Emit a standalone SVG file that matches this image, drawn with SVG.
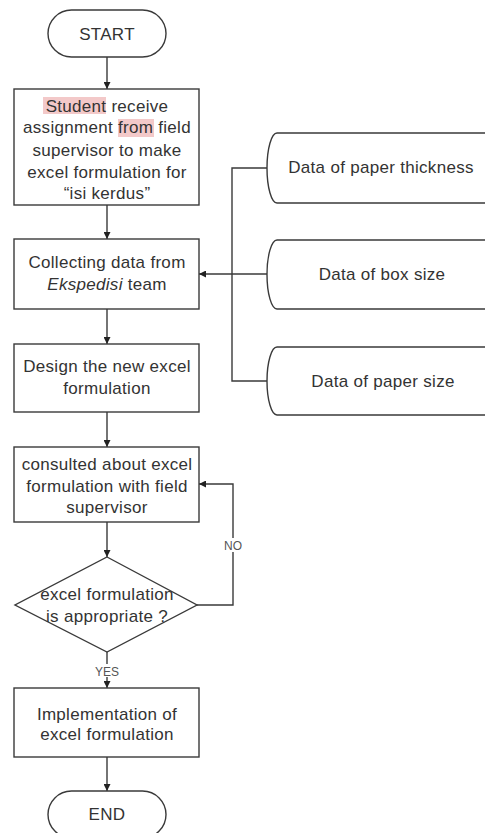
<svg xmlns="http://www.w3.org/2000/svg" width="485" height="833" viewBox="0 0 485 833">
<style>
.s{fill:#fff;stroke:#3a3a3a;stroke-width:1.4}
.t{font-family:"Liberation Sans",Arial,sans-serif;font-size:17px;fill:#333;text-anchor:middle;letter-spacing:0.3px}
.l{font-family:"Liberation Sans",Arial,sans-serif;font-size:12px;fill:#555;text-anchor:middle}
.c{fill:none;stroke:#3a3a3a;stroke-width:1.4}
.hl{fill:#f3c9c9}
</style>
<defs>
<marker id="ah" viewBox="0 0 10 10" refX="10" refY="5" markerWidth="7" markerHeight="7" markerUnits="userSpaceOnUse" orient="auto">
<path d="M0,0 L10,5 L0,10 z" fill="#222"/>
</marker>
</defs>
<rect width="485" height="833" fill="#fff"/>
<g id="connectors">
<path class="c" d="M107,57 V89" marker-end="url(#ah)"/>
<path class="c" d="M107,205 V239" marker-end="url(#ah)"/>
<path class="c" d="M107,309 V344" marker-end="url(#ah)"/>
<path class="c" d="M107,412 V447" marker-end="url(#ah)"/>
<path class="c" d="M107,522 V557" marker-end="url(#ah)"/>
<path class="c" d="M107,652 V688" marker-end="url(#ah)"/>
<path class="c" d="M107,757 V791" marker-end="url(#ah)"/>
<path class="c" d="M197,605 H233 V484 H199" marker-end="url(#ah)"/>
<path class="c" d="M267,168 H232 V381 H267"/>
<path class="c" d="M267,274 H199" marker-end="url(#ah)"/>
<rect x="222" y="538" width="22" height="14" fill="#fff"/>
<text class="l" x="233" y="550">NO</text>
<rect x="94" y="664" width="26" height="13" fill="#fff"/>
<text class="l" x="107" y="676">YES</text>
</g>
<g id="start">
<rect class="s" x="48" y="10" width="118" height="47" rx="23.5"/>
<text class="t" x="107" y="40">START</text>
</g>
<g id="receive">
<rect class="s" x="14" y="89" width="185" height="116"/>
<rect class="hl" x="43" y="97" width="63" height="17"/>
<rect class="hl" x="118" y="119" width="36" height="18"/>
<text class="t" x="107" y="112">Student receive</text>
<text class="t" x="107" y="133">assignment from field</text>
<text class="t" x="107" y="156">supervisor to make</text>
<text class="t" x="107" y="178">excel formulation for</text>
<text class="t" x="107" y="199">“isi kerdus”</text>
</g>
<g id="collect">
<rect class="s" x="14" y="239" width="185" height="70"/>
<text class="t" x="107" y="268">Collecting data from</text>
<text class="t" x="107" y="290"><tspan font-style="italic">Ekspedisi</tspan> team</text>
</g>
<g id="design">
<rect class="s" x="14" y="344" width="185" height="68"/>
<text class="t" x="107" y="372">Design the new excel</text>
<text class="t" x="107" y="394">formulation</text>
</g>
<g id="consult">
<rect class="s" x="14" y="447" width="185" height="75"/>
<text class="t" x="107" y="470">consulted about excel</text>
<text class="t" x="107" y="492">formulation with field</text>
<text class="t" x="107" y="513">supervisor</text>
</g>
<g id="decision">
<path class="s" d="M107,557 L197,605 L107,652 L15,605 Z"/>
<text class="t" x="107" y="600">excel formulation</text>
<text class="t" x="107" y="622">is appropriate ?</text>
</g>
<g id="implement">
<rect class="s" x="14" y="688" width="185" height="69"/>
<text class="t" x="107" y="720">Implementation of</text>
<text class="t" x="107" y="740">excel formulation</text>
</g>
<g id="end">
<rect class="s" x="48" y="791" width="118" height="47" rx="23.5"/>
<text class="t" x="107" y="820">END</text>
</g>
<g id="data-thickness">
<path class="s" d="M490,133 H277 A10,35 0 0 0 277,203 H490"/>
<text class="t" x="381" y="173">Data of paper thickness</text>
</g>
<g id="data-box">
<path class="s" d="M490,240 H277 A10,34.5 0 0 0 277,309 H490"/>
<text class="t" x="382" y="280">Data of box size</text>
</g>
<g id="data-paper">
<path class="s" d="M490,347 H277 A10,34 0 0 0 277,415 H490"/>
<text class="t" x="383" y="387">Data of paper size</text>
</g>
</svg>
